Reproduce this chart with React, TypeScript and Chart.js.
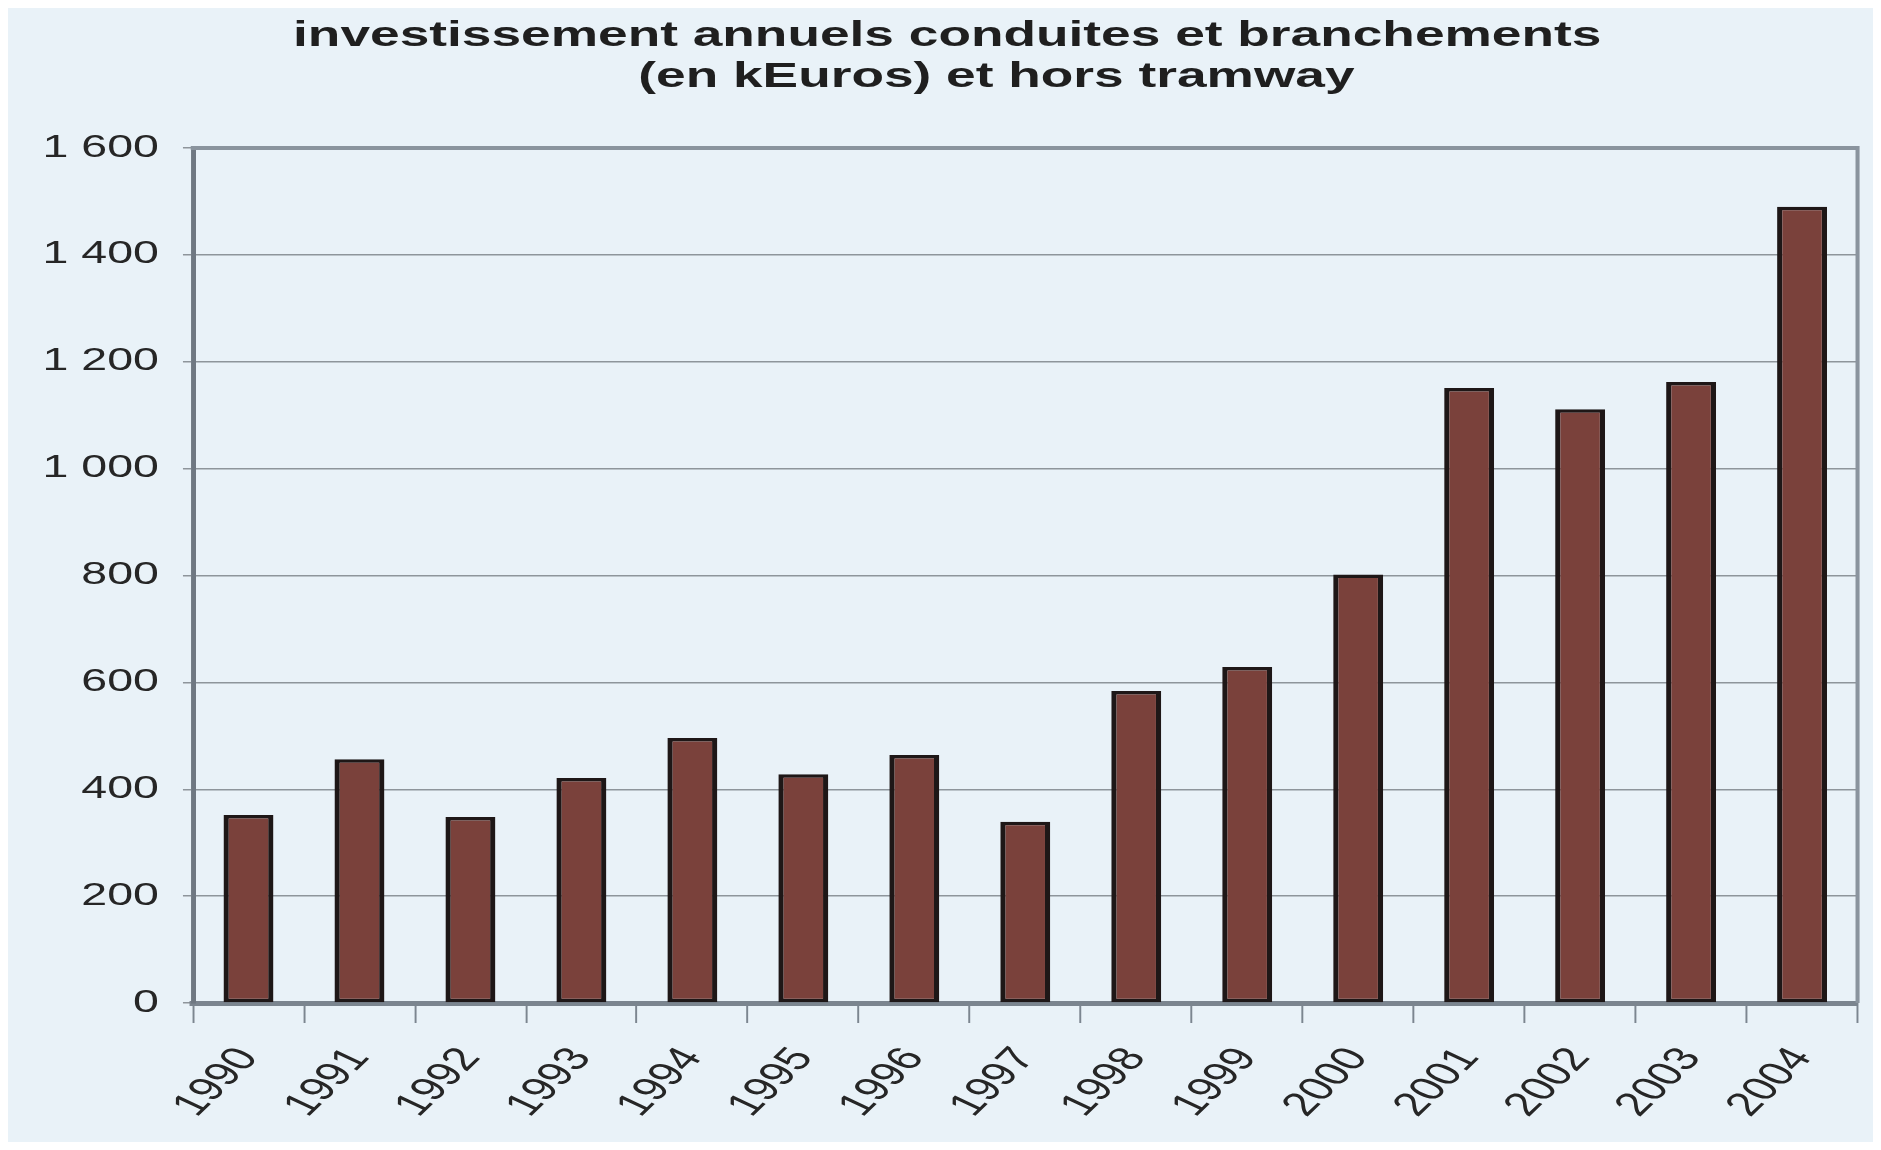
import React, { useEffect, useRef } from 'react';
import { Chart, registerables } from 'chart.js';

Chart.register(...registerables);

// ---- data ----
const years = ['1990', '1991', '1992', '1993', '1994', '1995', '1996', '1997', '1998', '1999', '2000', '2001', '2002', '2003', '2004'];
const investments = [352, 456, 348, 421, 496, 428, 464, 339, 584, 629, 802, 1151, 1111, 1162, 1490];
const titleLines = ['investissement annuels conduites et branchements', '(en kEuros) et hors tramway'];
const yMin = 0;
const yMax = 1600;
const yStep = 200;

// The reference picture is horizontally stretched: the chart is laid out on a
// narrower logical canvas and painted with a horizontal scale factor.
const PHYS_W = 1865;
const H = 1134;
const LOGICAL_W = 1243;
const SX = PHYS_W / LOGICAL_W;
const BG = '#e9f2f8';
const FONT = '"Liberation Sans", Arial, sans-serif';

function formatThousands(v: number): string {
  const n = Math.round(v);
  if (n < 1000) return String(n);
  return Math.floor(n / 1000) + ' ' + String(n % 1000).padStart(3, '0');
}

export default function App() {
  const ref = useRef<HTMLCanvasElement | null>(null);

  useEffect(() => {
    const canvas = ref.current;
    if (!canvas) return;

    const background = {
      id: 'background',
      beforeDraw(chart: any) {
        const ctx = chart.ctx;
        ctx.save();
        ctx.fillStyle = BG;
        ctx.fillRect(0, 0, chart.width, chart.height);
        ctx.restore();
      },
    };

    const frameAndTitle = {
      id: 'frameAndTitle',
      afterDatasetsDraw(chart: any) {
        const { ctx, chartArea } = chart;
        ctx.save();
        ctx.strokeStyle = '#8a949e';
        ctx.lineWidth = 4;
        ctx.beginPath();
        ctx.moveTo(chartArea.left - 1.5, chartArea.top);
        ctx.lineTo(chartArea.right, chartArea.top);
        ctx.stroke();
        ctx.lineWidth = 2.7;
        ctx.beginPath();
        ctx.moveTo(chartArea.right, chartArea.top - 2);
        ctx.lineTo(chartArea.right, chartArea.bottom);
        ctx.stroke();
        ctx.restore();
      },
      afterDraw(chart: any) {
        const ctx = chart.ctx;
        const w = chart.width;
        ctx.save();
        ctx.fillStyle = '#1f1f1f';
        ctx.font = 'bold 35.5px ' + FONT;
        ctx.textAlign = 'center';
        ctx.textBaseline = 'alphabetic';
        ctx.fillText(titleLines[0], w * 0.5036, 38);
        ctx.fillText(titleLines[1], w * 0.53, 79);
        ctx.restore();
      },
    };

    const chart = new Chart(canvas, {
      type: 'bar',
      data: {
        labels: years,
        datasets: [
          {
            data: investments,
            backgroundColor: '#7a413b',
            borderColor: '#1e1717',
            borderWidth: 3.5,
            borderSkipped: false,
            categoryPercentage: 1,
            barPercentage: 0.45,
          },
        ],
      },
      options: {
        animation: false,
        responsive: false,
        devicePixelRatio: 1,
        events: [],
        layout: { padding: { left: 0, right: 10.3, top: 140, bottom: 0 } },
        plugins: {
          legend: { display: false },
          tooltip: { enabled: false },
          title: { display: false },
        },
        scales: {
          x: {
            grid: {
              offset: true,
              drawOnChartArea: false,
              drawTicks: true,
              tickLength: 20,
              color: '#7c8690',
              lineWidth: 1.3,
            },
            border: { display: true, color: '#7b858f', width: 5 },
            ticks: {
              autoSkip: false,
              maxRotation: 55,
              minRotation: 55,
              padding: 18,
              color: '#262626',
              font: { family: FONT, size: 33 },
            },
            afterFit: (s: any) => {
              s.height = 139;
              s.paddingLeft = 0;
              s.paddingRight = 0;
            },
          },
          y: {
            min: yMin,
            max: yMax,
            ticks: {
              stepSize: yStep,
              padding: 16,
              color: '#262626',
              font: { family: FONT, size: 31 },
              callback: (v: any) => formatThousands(Number(v)),
            },
            grid: {
              color: '#8e959b',
              lineWidth: 1.5,
              tickLength: 6.7,
              drawTicks: true,
            },
            border: { display: true, color: '#6f7882', width: 3.3 },
            afterFit: (s: any) => {
              s.width = 123.3;
            },
          },
        },
      },
      plugins: [background, frameAndTitle],
    });

    // Paint the logical chart onto the full-width canvas with a horizontal stretch.
    canvas.width = PHYS_W;
    canvas.height = H;
    canvas.style.width = PHYS_W + 'px';
    canvas.style.height = H + 'px';
    const ctx = canvas.getContext('2d');
    if (ctx) ctx.setTransform(SX, 0, 0, 1, 0, 0);
    chart.draw();

    return () => {
      chart.destroy();
    };
  }, []);

  return (
    <div>
      <canvas ref={ref} width={LOGICAL_W} height={H} style={{ display: 'block' }} />
    </div>
  );
}
